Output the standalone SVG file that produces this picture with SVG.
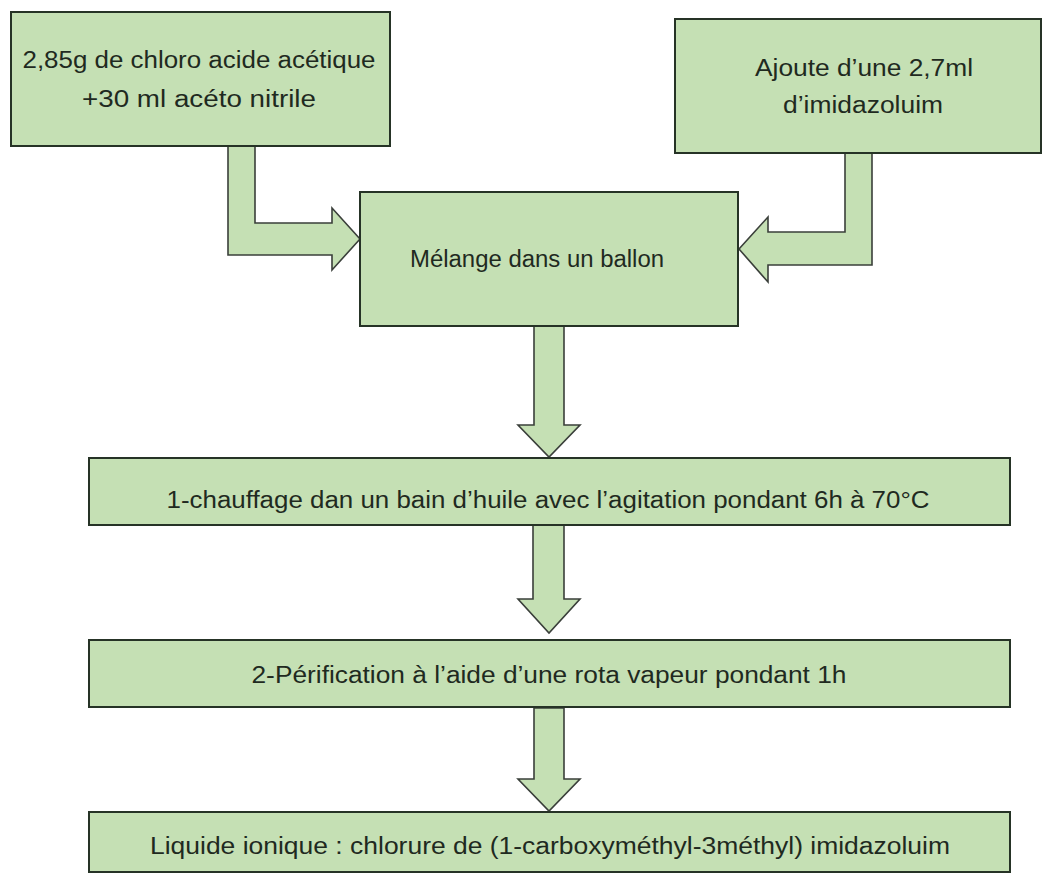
<svg xmlns="http://www.w3.org/2000/svg" width="1043" height="873" viewBox="0 0 1043 873">
  <style>
    .box { fill: #c5e0b4; stroke: #263326; stroke-width: 2; }
    .arrow { fill: #c5e0b4; stroke: #3a3f3a; stroke-width: 1.6; stroke-linejoin: miter; }
    .lbl { font-family: "Liberation Sans", Arial, sans-serif; font-size: 23px; fill: #1f2a1f; text-anchor: middle; }
  </style>
  <rect width="1043" height="873" fill="#ffffff"/>

  <!-- connectors: block arrows -->
  <g id="connectors">
    <polygon class="arrow" points="228,146 255,146 255,223 332,223 332,208 360,239 332,270 332,255 228,255"/>
    <polygon class="arrow" points="845,153 872,153 872,265 768,265 768,282 739,249 768,217 768,232 845,232"/>
    <polygon class="arrow" points="534,326 564,326 564,425 580,425 549,457 518,425 534,425"/>
    <polygon class="arrow" points="533,525 564,525 564,599 580,599 549,633 518,599 533,599"/>
    <polygon class="arrow" points="534,708 564,708 564,779 580,779 549,811 518,779 534,779"/>
  </g>

  <g id="reactifs">
    <rect class="box" x="11" y="12" width="379" height="134"/>
    <text class="lbl" x="199" y="68" textLength="353" lengthAdjust="spacingAndGlyphs">2,85g de chloro acide acétique</text>
    <text class="lbl" x="199" y="107" textLength="234" lengthAdjust="spacingAndGlyphs">+30 ml acéto nitrile</text>
  </g>

  <g id="imidazole">
    <rect class="box" x="675" y="19" width="366" height="134"/>
    <text class="lbl" x="864" y="76" textLength="218" lengthAdjust="spacingAndGlyphs">Ajoute d’une 2,7ml</text>
    <text class="lbl" x="863" y="113" textLength="160" lengthAdjust="spacingAndGlyphs">d’imidazoluim</text>
  </g>

  <g id="melange">
    <rect class="box" x="360" y="192" width="378" height="134"/>
    <text class="lbl" x="537" y="267" textLength="254" lengthAdjust="spacingAndGlyphs">Mélange dans un ballon</text>
  </g>

  <g id="chauffage">
    <rect class="box" x="89" y="458" width="921" height="67"/>
    <text class="lbl" x="548" y="508" textLength="763" lengthAdjust="spacingAndGlyphs">1-chauffage dan un bain d’huile avec l’agitation pondant 6h à 70°C</text>
  </g>

  <g id="purification">
    <rect class="box" x="89" y="640" width="921" height="67"/>
    <text class="lbl" x="549" y="683" textLength="595" lengthAdjust="spacingAndGlyphs">2-Pérification à l’aide d’une rota vapeur pondant 1h</text>
  </g>

  <g id="produit">
    <rect class="box" x="89" y="812" width="921" height="60"/>
    <text class="lbl" x="550" y="854" textLength="800" lengthAdjust="spacingAndGlyphs">Liquide ionique : chlorure de (1-carboxyméthyl-3méthyl) imidazoluim</text>
  </g>
</svg>
